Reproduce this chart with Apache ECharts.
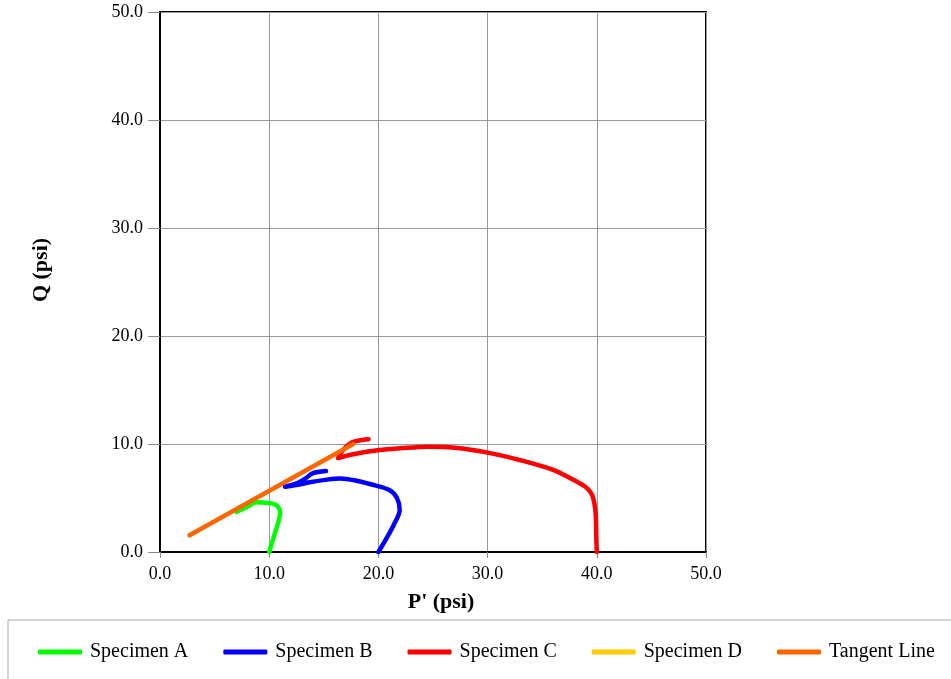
<!DOCTYPE html>
<html>
<head>
<meta charset="utf-8">
<script src="https://cdn.jsdelivr.net/npm/echarts@6/dist/echarts.min.js"></script>
<style>html,body{margin:0;padding:0;background:#fff}#c{width:951px;height:679px}</style>
</head>
<body>
<div id="c"></div>
<script>
var seriesNames = ['Specimen A', 'Specimen B', 'Specimen C', 'Specimen D', 'Tangent Line'];
var specimenA = [[10.0,0.0],[10.3,1.0],[10.6,2.0],[10.9,3.0],[11.0,3.7],[10.8,4.2],[10.4,4.45],[9.8,4.55],[8.85,4.6],[8.0,4.2],[7.0,3.7]];
var specimenB = [[20.0,0.0],[20.7,1.2],[21.4,2.5],[21.95,3.9],[21.7,5.0],[21.0,5.75],[19.2,6.3],[18.0,6.6],[16.5,6.8],[15.3,6.7],[13.7,6.45],[12.5,6.2],[11.45,6.05],[12.5,6.35],[13.3,6.8],[14.0,7.3],[15.2,7.5]];
var specimenC = [[40.0,0.0],[39.95,1.5],[39.9,3.5],[39.6,5.2],[39.0,6.0],[38.2,6.5],[36.0,7.6],[33.0,8.5],[30.0,9.2],[27.0,9.65],[24.5,9.75],[22.0,9.6],[20.1,9.44],[17.7,9.05],[16.3,8.7],[16.9,9.6],[17.7,10.2],[19.1,10.45]];
var specimenD = [];
var tangentLine = [[2.7,1.55],[17.7,10.0]];
var xTicks = [0, 10, 20, 30, 40, 50];
var yTicks = [0, 10, 20, 30, 40, 50];

var colors = ['#00ff00', '#0000ff', '#ff0000', '#ffcc00', '#ff6600'];
var datas = [specimenA, specimenB, specimenC, specimenD, tangentLine];
var font = '"Liberation Serif", "Times New Roman", serif';

var chart = echarts.init(document.getElementById('c'));
chart.setOption({
  animation: false,
  grid: { left: 160, right: 245, top: 12, bottom: 127, show: true, borderColor: '#000', borderWidth: 2 },
  xAxis: {
    type: 'value', min: xTicks[0], max: xTicks[xTicks.length-1], interval: 10,
    name: "P' (psi)", nameLocation: 'middle', nameGap: 39,
    nameTextStyle: { fontFamily: font, fontWeight: 'bold', fontSize: 22, color: '#000', padding: [0,0,0,16] },
    axisLine: { show: true, lineStyle: { color: '#000', width: 2 } },
    axisTick: { show: true, inside: false, length: 6, lineStyle: { color: '#888' } },
    axisLabel: { fontFamily: font, fontSize: 18, color: '#000', margin: 13, formatter: function(v){ return v.toFixed(1); } },
    splitLine: { show: true, lineStyle: { color: '#999', width: 1 } }
  },
  yAxis: {
    type: 'value', min: yTicks[0], max: yTicks[yTicks.length-1], interval: 10,
    name: 'Q (psi)', nameLocation: 'middle', nameGap: 108, nameRotate: 90,
    nameTextStyle: { fontFamily: font, fontWeight: 'bold', fontSize: 22, color: '#000', padding: [0,0,0,24] },
    axisLine: { show: true, lineStyle: { color: '#000', width: 2 } },
    axisTick: { show: true, inside: false, length: 12, lineStyle: { color: '#888' } },
    axisLabel: { fontFamily: font, fontSize: 18, color: '#000', margin: 17, formatter: function(v){ return v.toFixed(1); } },
    splitLine: { show: true, lineStyle: { color: '#999', width: 1 } }
  },
  legend: {
    data: seriesNames, left: 38, top: 642, itemGap: 35, padding: 0,
    icon: 'roundRect', itemWidth: 44, itemHeight: 5,
    textStyle: { fontFamily: font, fontSize: 20, color: '#000', padding: [0,0,0,3] }
  },
  graphic: [{ type: 'rect', shape: { x: 8, y: 620, width: 960, height: 80 }, style: { fill: 'none', stroke: '#aaa', lineWidth: 1 }, silent: true }],
  series: seriesNames.map(function(n, i){
    return { name: n, type: 'line', data: datas[i], showSymbol: false, symbol: 'none', smooth: 0.3,
      color: colors[i], lineStyle: { width: 4.5, color: colors[i], cap: 'round', join: 'round' }, z: i === 4 ? 5 : 2 };
  })
});
</script>
</body>
</html>
